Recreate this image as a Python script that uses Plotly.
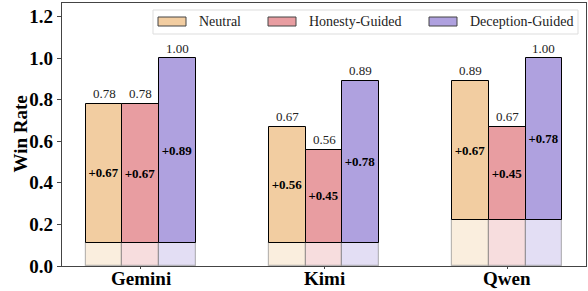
import plotly.graph_objects as go

models = ["Gemini", "Kimi", "Qwen"]
series = ["Neutral", "Honesty-Guided", "Deception-Guided"]
neutral = [0.78, 0.67, 0.89]
honesty = [0.78, 0.56, 0.67]
deception = [1.00, 0.89, 1.00]
baseline = [0.11, 0.11, 0.22]
y_ticks = [0.0, 0.2, 0.4, 0.6, 0.8, 1.0, 1.2]

values = [neutral, honesty, deception]
colors = ["#F2CDA1", "#E89DA1", "#AFA1DF"]
light = ["rgba(242,205,161,0.35)", "rgba(232,157,161,0.35)", "rgba(175,161,223,0.35)"]
bw = 0.2
FONT = "Liberation Serif, Times New Roman, serif"

fig = go.Figure()
ann = []
for j, (name, vals) in enumerate(zip(series, values)):
    xs = [i + (j - 1) * bw for i in range(len(models))]
    fig.add_trace(go.Bar(x=xs, y=baseline, width=bw, marker=dict(color=light[j], line=dict(color="rgba(120,120,120,0.5)", width=1.2)), showlegend=False, hoverinfo="skip"))
    inc = [round(v - b, 2) for v, b in zip(vals, baseline)]
    fig.add_trace(go.Bar(x=xs, y=inc, base=baseline, width=bw, name=name,
                         marker=dict(color=colors[j], line=dict(color="black", width=1)),
                         text=[f"<b>+{d:.2f}</b>" for d in inc], textposition="inside",
                         insidetextanchor="middle", textangle=0,
                         textfont=dict(family=FONT, size=13, color="black"), showlegend=False))
    for x, v in zip(xs, vals):
        ann.append(dict(xref="x", yref="y", x=x, y=v, text=f"{v:.2f}", showarrow=False, yshift=10,
                        xanchor="center", yanchor="middle", font=dict(family=FONT, size=13, color="#222")))

# custom legend
shapes = [dict(type="rect", xref="paper", yref="paper", x0=(153-62)/524, x1=(578-62)/524,
               y0=(266-34)/263, y1=(266-10)/263, line=dict(color="#DDDDDD", width=1), fillcolor="rgba(255,255,255,0.8)")]
patch_x = [158, 268, 429]
text_x = [197, 307, 468]
for j, name in enumerate(series):
    shapes.append(dict(type="rect", xref="paper", yref="paper", x0=(patch_x[j]-62)/524, x1=(patch_x[j]+28-62)/524,
                       y0=(266-26)/263, y1=(266-17)/263, fillcolor=colors[j], line=dict(color="#444", width=1)))
    ann.append(dict(xref="paper", yref="paper", x=(text_x[j]-62)/524, y=(266-21.5)/263, text=name, showarrow=False,
                    xanchor="left", yanchor="middle", font=dict(family=FONT, size=14, color="#222")))
ann.append(dict(xref="paper", yref="paper", x=-42/524, y=0.5, text="<b>Win Rate</b>", textangle=-90, showarrow=False,
                xanchor="center", yanchor="middle", font=dict(family=FONT, size=19, color="black")))
for i, m in enumerate(models):
    ann.append(dict(xref="x", yref="paper", x=i, y=(266-278)/263, text=f"<b>{m}</b>", showarrow=False,
                    xanchor="center", yanchor="middle", font=dict(family=FONT, size=19, color="black")))

fig.update_layout(
    width=588, height=291, barmode="overlay", bargap=0,
    margin=dict(l=62, r=2, t=3, b=25, autoexpand=False),
    plot_bgcolor="white", paper_bgcolor="white",
    shapes=shapes, annotations=ann,
    xaxis=dict(range=[-0.43, 2.43], tickvals=list(range(len(models))), showticklabels=False,
               showline=True, linecolor="#444", linewidth=1.3,
               mirror=True, ticks="outside", ticklen=2, tickcolor="#444", showgrid=False, zeroline=False, automargin=False),
    yaxis=dict(range=[0, 1.265], tickvals=y_ticks, ticktext=[f"<b>{t:.1f}</b>" for t in y_ticks],
               tickfont=dict(family=FONT, size=19, color="black"), showline=True, linecolor="#444", linewidth=1.3,
               mirror=True, ticks="outside", ticklen=4, tickcolor="#444", showgrid=False, zeroline=False, automargin=False),
)
fig.write_html("out.html", config={"displayModeBar": False},
               post_script="document.body.style.margin='0';document.body.style.overflow='hidden';")
